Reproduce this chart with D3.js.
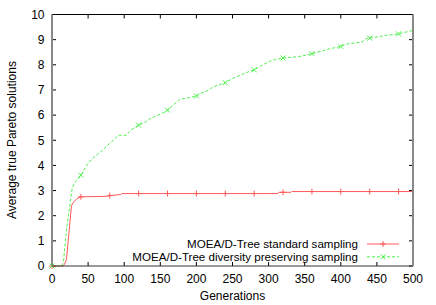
<!DOCTYPE html>
<html><head><meta charset="utf-8">
<script src="https://cdn.jsdelivr.net/npm/d3@7"></script>
<style>body{margin:0;background:#fff}text{font-family:"Liberation Sans",Arial,Helvetica,sans-serif;font-size:12px;fill:#000}</style>
</head><body><svg id="c" width="436" height="305"></svg>
<script>
const xTicks = [0,50,100,150,200,250,300,350,400,450,500];
const yTicks = [0,1,2,3,4,5,6,7,8,9,10];
const seriesNames = ["MOEA/D-Tree standard sampling","MOEA/D-Tree diversity preserving sampling"];
const stdGen = [0,15,17,20,27,30,35,40,75,80,95,97,120,160,200,240,280,313,314,320,331,332,360,400,440,480,500];
const stdVal = [0,0,0.05,0.25,2.4,2.55,2.68,2.75,2.77,2.8,2.84,2.88,2.88,2.88,2.88,2.88,2.88,2.88,2.93,2.93,2.93,2.96,2.96,2.96,2.96,2.96,2.96];
const divGen = [0,14,16,20,25,28,31,36,40,48,55,60,70,79,85,92,103,110,120,128,136,145,152,160,168,177,189,200,205,216,223,240,250,260,270,280,292,304,320,343,360,385,400,410,429,436,440,463,480,500];
const divVal = [0,0,0.2,1.43,2.5,3.1,3.3,3.45,3.61,4.0,4.25,4.37,4.6,4.85,5.0,5.2,5.2,5.42,5.6,5.7,5.86,5.98,6.06,6.2,6.4,6.63,6.69,6.76,6.85,6.98,7.12,7.29,7.45,7.58,7.7,7.8,8.0,8.17,8.27,8.33,8.44,8.64,8.73,8.84,8.9,9.05,9.06,9.17,9.23,9.37];
const markerEvery = 40;

const svg = d3.select("#c");
const L=52, R=413, T=14.5, B=266;
const x = d3.scaleLinear().domain([0,500]).range([L,R]);
const y = d3.scaleLinear().domain([0,10]).range([B,T]);
const tl = 4;

const g = svg.append("g");
xTicks.forEach(t=>{
  g.append("line").attr("x1",x(t)).attr("x2",x(t)).attr("y1",B).attr("y2",B-tl).attr("stroke","#000");
  g.append("line").attr("x1",x(t)).attr("x2",x(t)).attr("y1",T).attr("y2",T+tl).attr("stroke","#000");
  g.append("text").attr("x",x(t)).attr("y",283).attr("text-anchor","middle").text(t);
});
yTicks.forEach(t=>{
  g.append("line").attr("x1",L).attr("x2",L+tl).attr("y1",y(t)).attr("y2",y(t)).attr("stroke","#000");
  g.append("line").attr("x1",R).attr("x2",R-tl).attr("y1",y(t)).attr("y2",y(t)).attr("stroke","#000");
  g.append("text").attr("x",44.5).attr("y",y(t)+4.3).attr("text-anchor","end").text(t);
});

const line = d3.line().x(d=>x(d[0])).y(d=>y(d[1]));
const stdData = stdGen.map((d,i)=>[d,stdVal[i]]);
const divData = divGen.map((d,i)=>[d,divVal[i]]);
const red="#ff5a5a", green="#4cf04c";

svg.append("path").attr("d",line(stdData)).attr("fill","none").attr("stroke",red).attr("stroke-width",1);
svg.append("path").attr("d",line(divData)).attr("fill","none").attr("stroke",green).attr("stroke-width",1).attr("stroke-dasharray","3,2");

function plus(sel,cx,cy,c){
  sel.append("path").attr("d",`M${cx-3},${cy}H${cx+3}M${cx},${cy-3}V${cy+3}`).attr("stroke",c).attr("fill","none");
}
function cross(sel,cx,cy,c){
  sel.append("path").attr("d",`M${cx-2.5},${cy-2.5}L${cx+2.5},${cy+2.5}M${cx-2.5},${cy+2.5}L${cx+2.5},${cy-2.5}`).attr("stroke",c).attr("fill","none");
}
stdData.filter(d=>d[0]%markerEvery===0 && d[0]<500).forEach(d=>plus(svg,x(d[0]),y(d[1]),red));
divData.filter(d=>d[0]%markerEvery===0 && d[0]<500).forEach(d=>cross(svg,x(d[0]),y(d[1]),green));

svg.append("line").attr("x1",L).attr("x2",R).attr("y1",T).attr("y2",T).attr("stroke","#000");
svg.append("line").attr("x1",L).attr("x2",R).attr("y1",B).attr("y2",B).attr("stroke","#333");
svg.append("line").attr("x1",L).attr("x2",L).attr("y1",T).attr("y2",B).attr("stroke","#888").attr("stroke-width",2);
svg.append("line").attr("x1",R).attr("x2",R).attr("y1",T).attr("y2",B).attr("stroke","#888").attr("stroke-width",2);

const ly=[244,256.8];
seriesNames.forEach((n,i)=>{
  svg.append("text").attr("x",358).attr("y",ly[i]+4).attr("text-anchor","end").style("font-size","11.6px").text(n);
  const c=i===0?red:green;
  const ln=svg.append("line").attr("x1",367).attr("x2",399).attr("y1",ly[i]).attr("y2",ly[i]).attr("stroke",c);
  if(i===1) ln.attr("stroke-dasharray","3,2");
  if(i===0) plus(svg,383,ly[i],c); else cross(svg,383,ly[i],c);
});

svg.append("text").attr("x",232.5).attr("y",300).attr("text-anchor","middle").text("Generations");
svg.append("text").attr("transform","translate(16,140) rotate(-90)").attr("text-anchor","middle").text("Average true Pareto solutions");
</script></body></html>
